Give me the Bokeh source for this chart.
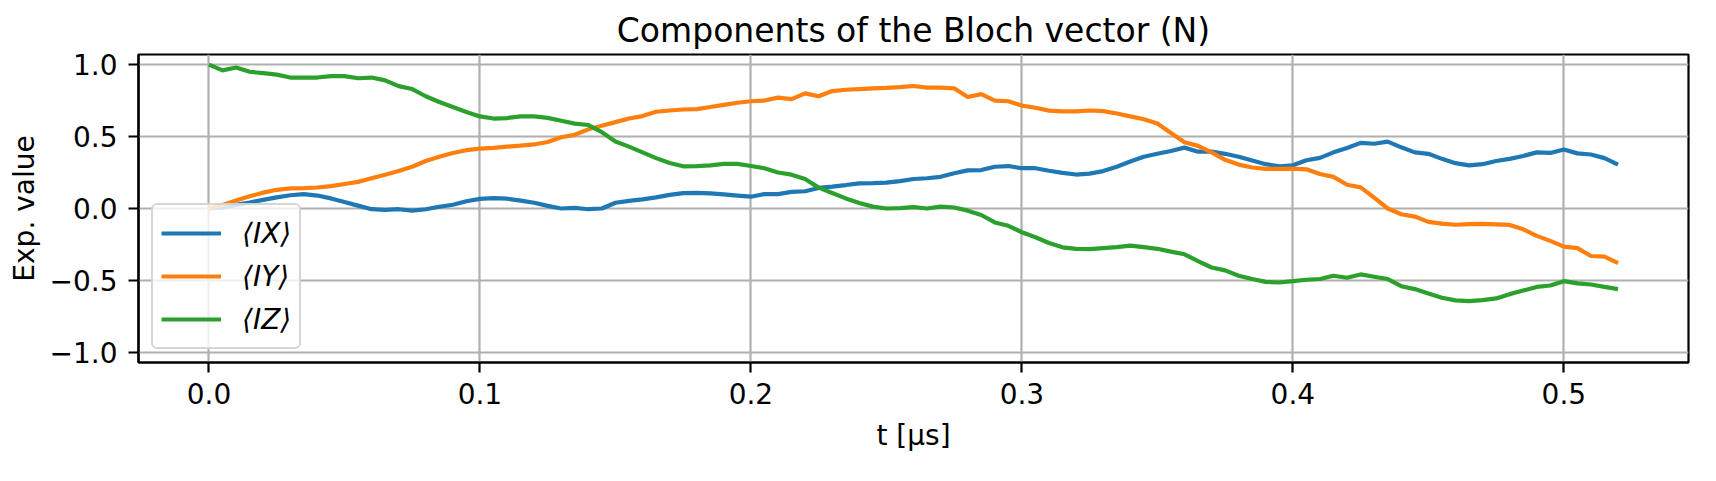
from bokeh.plotting import figure
from bokeh.models import Range1d, FixedTicker, Legend, LegendItem
from bokeh.embed import file_html
from bokeh.resources import INLINE

# ---- data ----
t = [0.000, 0.005, 0.010, 0.015, 0.020, 0.025, 0.030, 0.035, 0.040, 0.045,
     0.050, 0.055, 0.060, 0.065, 0.070, 0.075, 0.080, 0.085, 0.090, 0.095,
     0.100, 0.105, 0.110, 0.115, 0.120, 0.125, 0.130, 0.135, 0.140, 0.145,
     0.150, 0.155, 0.160, 0.165, 0.170, 0.175, 0.180, 0.185, 0.190, 0.195,
     0.200, 0.205, 0.210, 0.215, 0.220, 0.225, 0.230, 0.235, 0.240, 0.245,
     0.250, 0.255, 0.260, 0.265, 0.270, 0.275, 0.280, 0.285, 0.290, 0.295,
     0.300, 0.305, 0.310, 0.315, 0.320, 0.325, 0.330, 0.335, 0.340, 0.345,
     0.350, 0.355, 0.360, 0.365, 0.370, 0.375, 0.380, 0.385, 0.390, 0.395,
     0.400, 0.405, 0.410, 0.415, 0.420, 0.425, 0.430, 0.435, 0.440, 0.445,
     0.450, 0.455, 0.460, 0.465, 0.470, 0.475, 0.480, 0.485, 0.490, 0.495,
     0.500, 0.505, 0.510, 0.515, 0.520]

ix = [0.000, 0.008, 0.025, 0.042, 0.060, 0.077, 0.092, 0.100, 0.090, 0.070,
      0.045, 0.020, -0.005, -0.010, -0.005, -0.015, -0.005, 0.012, 0.026, 0.050,
      0.067, 0.072, 0.068, 0.055, 0.040, 0.018, 0.000, 0.004, -0.005, 0.000,
      0.040, 0.053, 0.063, 0.077, 0.095, 0.107, 0.108, 0.105, 0.098, 0.090,
      0.082, 0.100, 0.100, 0.115, 0.120, 0.143, 0.152, 0.163, 0.175, 0.176,
      0.180, 0.190, 0.205, 0.210, 0.220, 0.245, 0.265, 0.267, 0.290, 0.295,
      0.280, 0.280, 0.262, 0.248, 0.236, 0.242, 0.260, 0.290, 0.326, 0.360,
      0.380, 0.400, 0.423, 0.395, 0.395, 0.380, 0.360, 0.333, 0.308, 0.293,
      0.300, 0.335, 0.352, 0.390, 0.420, 0.456, 0.450, 0.465, 0.425, 0.390,
      0.380, 0.345, 0.315, 0.300, 0.308, 0.330, 0.345, 0.365, 0.390, 0.386,
      0.410, 0.383, 0.375, 0.350, 0.305]

iy = [0.000, 0.025, 0.055, 0.085, 0.110, 0.130, 0.140, 0.142, 0.146, 0.155,
      0.170, 0.185, 0.210, 0.235, 0.260, 0.290, 0.330, 0.360, 0.386, 0.405,
      0.416, 0.421, 0.430, 0.437, 0.445, 0.462, 0.495, 0.512, 0.550, 0.575,
      0.600, 0.625, 0.642, 0.672, 0.681, 0.688, 0.690, 0.705, 0.720, 0.735,
      0.745, 0.750, 0.770, 0.760, 0.800, 0.780, 0.816, 0.825, 0.830, 0.835,
      0.838, 0.843, 0.851, 0.840, 0.840, 0.835, 0.775, 0.795, 0.750, 0.745,
      0.715, 0.700, 0.680, 0.675, 0.675, 0.681, 0.677, 0.660, 0.640, 0.620,
      0.590, 0.525, 0.460, 0.435, 0.390, 0.338, 0.305, 0.285, 0.275, 0.275,
      0.277, 0.272, 0.240, 0.220, 0.165, 0.147, 0.075, 0.000, -0.040, -0.056,
      -0.093, -0.105, -0.113, -0.109, -0.107, -0.110, -0.114, -0.145, -0.190, -0.225,
      -0.265, -0.275, -0.330, -0.335, -0.380]

iz = [1.000, 0.960, 0.980, 0.950, 0.940, 0.930, 0.910, 0.910, 0.910, 0.920,
      0.920, 0.905, 0.910, 0.890, 0.850, 0.830, 0.780, 0.740, 0.705, 0.670,
      0.640, 0.625, 0.628, 0.640, 0.640, 0.630, 0.610, 0.590, 0.580, 0.530,
      0.465, 0.430, 0.390, 0.350, 0.316, 0.293, 0.295, 0.300, 0.310, 0.310,
      0.295, 0.280, 0.250, 0.235, 0.205, 0.145, 0.108, 0.070, 0.038, 0.013,
      0.000, 0.002, 0.009, 0.000, 0.013, 0.007, -0.015, -0.045, -0.097, -0.120,
      -0.165, -0.200, -0.240, -0.270, -0.280, -0.282, -0.275, -0.268, -0.258, -0.268,
      -0.280, -0.300, -0.318, -0.365, -0.410, -0.430, -0.467, -0.490, -0.510, -0.514,
      -0.505, -0.495, -0.490, -0.467, -0.481, -0.458, -0.474, -0.490, -0.540, -0.560,
      -0.590, -0.620, -0.638, -0.644, -0.637, -0.625, -0.595, -0.570, -0.545, -0.535,
      -0.505, -0.520, -0.528, -0.545, -0.560]

series_labels = ["⟨IX⟩", "⟨IY⟩", "⟨IZ⟩"]
series_colors = ["#1f77b4", "#ff7f0e", "#2ca02c"]

x_ticks = [0.0, 0.1, 0.2, 0.3, 0.4, 0.5]
x_tick_labels = ["0.0", "0.1", "0.2", "0.3", "0.4", "0.5"]
y_ticks = [-1.0, -0.5, 0.0, 0.5, 1.0]
y_tick_labels = ["−1.0", "−0.5", "0.0", "0.5", "1.0"]

title_text = "Components of the Bloch vector (N)"
x_label = "t [μs]"
y_label = "Exp. value"

FONT = "DejaVu Sans"

p = figure(width=1700, height=465, output_backend="svg", toolbar_location=None,
           x_range=Range1d(-0.026, 0.546), y_range=Range1d(-1.07, 1.07),
           min_border_left=138, min_border_right=12, min_border_top=54,
           min_border_bottom=103, title=title_text)

p.background_fill_color = "white"
p.border_fill_color = "white"
p.outline_line_color = "black"
p.outline_line_width = 2.2
p.outline_line_alpha = 1.0

p.title.text_font = FONT
p.title.text_font_size = "33px"
p.title.text_font_style = "normal"
p.title.text_color = "black"
p.title.align = "center"
p.title.standoff = 10

p.xaxis.ticker = FixedTicker(ticks=x_ticks)
p.xaxis.major_label_overrides = {k: v for k, v in zip(x_ticks, x_tick_labels)}
p.yaxis.ticker = FixedTicker(ticks=y_ticks)
p.yaxis.major_label_overrides = {k: v for k, v in zip(y_ticks, y_tick_labels)}
p.xaxis.axis_label = x_label
p.yaxis.axis_label = y_label

for ax in (p.xaxis[0], p.yaxis[0]):
    ax.axis_line_width = 2.2
    ax.axis_line_color = "black"
    ax.major_tick_line_width = 2.2
    ax.major_tick_line_color = "black"
    ax.major_tick_out = 10
    ax.major_tick_in = 0
    ax.minor_tick_out = 0
    ax.minor_tick_in = 0
    ax.major_label_text_font = FONT
    ax.major_label_text_font_size = "28px"
    ax.major_label_text_color = "black"
    ax.axis_label_text_font = FONT
    ax.axis_label_text_font_size = "28px"
    ax.axis_label_text_font_style = "normal"
    ax.axis_label_text_color = "black"

p.xaxis.major_label_standoff = 10
p.xaxis.axis_label_standoff = 12
p.yaxis.major_label_standoff = 11
p.yaxis.axis_label_standoff = 6

p.grid.grid_line_color = "#b0b0b0"
p.grid.grid_line_width = 2.2
p.grid.grid_line_alpha = 1.0

renderers = []
for ys, c in zip([ix, iy, iz], series_colors):
    r = p.line(t, ys, line_color=c, line_width=4.2)
    renderers.append(r)

legend = Legend(items=[LegendItem(label=lab, renderers=[r])
                       for lab, r in zip(series_labels, renderers)],
                location="bottom_left")
legend.label_text_font = FONT
legend.label_text_font_size = "28px"
legend.label_text_font_style = "italic"
legend.label_text_color = "black"
legend.glyph_width = 60
legend.glyph_height = 40
legend.label_height = 40
legend.label_standoff = 21
legend.spacing = 3
legend.padding = 8
legend.margin = 13
legend.border_line_color = "#cccccc"
legend.border_line_width = 2.2
legend.border_line_alpha = 0.8
legend.background_fill_color = "white"
legend.background_fill_alpha = 0.8
if "border_radius" in Legend.properties():
    legend.border_radius = 6
p.add_layout(legend)

open("out.html", "w").write(file_html(p, INLINE))
